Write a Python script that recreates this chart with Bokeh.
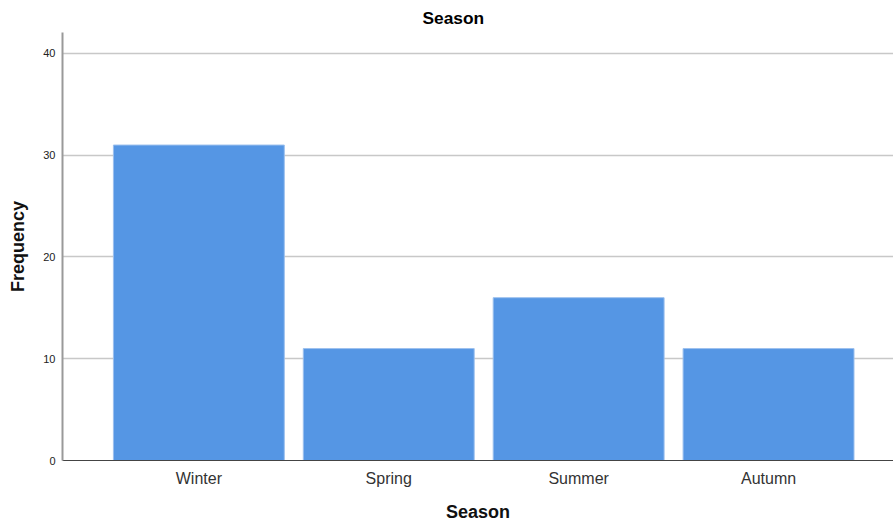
from bokeh.plotting import figure
from bokeh.models import Range1d, FixedTicker
from bokeh.embed import file_html
from bokeh.resources import INLINE

categories = ["Winter", "Spring", "Summer", "Autumn"]
frequency = [31, 11, 16, 11]
y_ticks = [0, 10, 20, 30, 40]

positions = [i + 1 for i in range(len(categories))]

p = figure(width=893, height=524, output_backend="svg", toolbar_location=None,
           x_range=Range1d(0.282, 4.658), y_range=Range1d(0, 42.06),
           min_border_left=62, min_border_right=0, min_border_top=32, min_border_bottom=40)
p.title.text = "Season"
p.title.align = "left"
p.title.offset = 360
p.title.text_font = "Liberation Sans"
p.title.text_font_size = "13pt"
p.title.text_font_style = "bold"
p.title.text_color = "#000000"
p.outline_line_color = None

p.vbar(x=positions, top=frequency, width=0.9, bottom=0,
       fill_color="#5596E4", line_color="#9CC0EE", line_width=1)

# axes
p.xaxis.ticker = FixedTicker(ticks=positions)
p.xaxis.major_label_overrides = {pos: c for pos, c in zip(positions, categories)}
p.xaxis.axis_label = "Season"
p.xaxis.major_tick_line_color = None
p.xaxis.major_tick_out = 0
p.xaxis.major_tick_in = 0
p.xaxis.minor_tick_line_color = None
p.xaxis.axis_line_color = "#444444"
p.xaxis.major_label_text_font = "Liberation Sans"
p.xaxis.major_label_text_font_size = "16px"
p.xaxis.major_label_text_color = "#333333"
p.xaxis.major_label_standoff = 9
p.xaxis.axis_label_text_font = "Liberation Sans"
p.xaxis.axis_label_text_font_size = "13.5pt"
p.xaxis.axis_label_text_font_style = "bold"
p.xaxis.axis_label_text_color = "#111111"
p.xaxis.axis_label_standoff = 12

p.yaxis.ticker = FixedTicker(ticks=y_ticks)
p.yaxis.axis_label = "Frequency"
p.yaxis.major_tick_line_color = None
p.yaxis.major_tick_out = 0
p.yaxis.major_tick_in = 0
p.yaxis.minor_tick_line_color = None
p.yaxis.axis_line_color = "#999999"
p.yaxis.axis_line_width = 2
p.yaxis.major_label_text_font = "Liberation Sans"
p.yaxis.major_label_text_font_size = "11px"
p.yaxis.major_label_text_color = "#222222"
p.yaxis.major_label_standoff = 7
p.yaxis.axis_label_text_font = "Liberation Sans"
p.yaxis.axis_label_text_font_size = "13.5pt"
p.yaxis.axis_label_text_font_style = "bold"
p.yaxis.axis_label_text_color = "#111111"
p.yaxis.axis_label_standoff = 12

p.xgrid.grid_line_color = None
p.ygrid.ticker = FixedTicker(ticks=y_ticks[1:])
p.ygrid.grid_line_color = "#C8C8C8"
p.ygrid.grid_line_width = 1.5

open("out.html", "w").write(file_html(p, INLINE))
